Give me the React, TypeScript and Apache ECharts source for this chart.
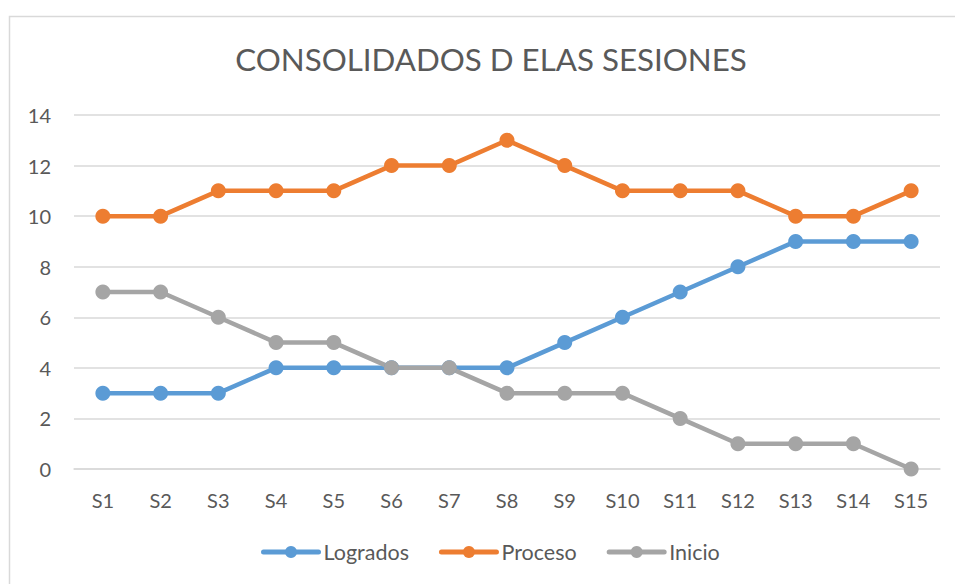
import React, { useEffect, useRef } from "react";
import * as echarts from "echarts";

const categories = ["S1","S2","S3","S4","S5","S6","S7","S8","S9","S10","S11","S12","S13","S14","S15"];
const logrados = [3,3,3,4,4,4,4,4,5,6,7,8,9,9,9];
const proceso = [10,10,11,11,11,12,12,13,12,11,11,11,10,10,11];
const inicio = [7,7,6,5,5,4,4,3,3,3,2,1,1,1,0];
const titleText = "CONSOLIDADOS D ELAS SESIONES";

const FONT = "Lato, 'Noto Sans', sans-serif";

export default function App() {
  const ref = useRef<HTMLDivElement>(null);
  useEffect(() => {
    const chart = echarts.init(ref.current!, null, { renderer: "svg" });
    const mk = (name: string, data: number[], color: string) => ({
      name,
      type: "line",
      data,
      symbol: "circle",
      symbolSize: 15,
      lineStyle: { width: 4.5, color },
      itemStyle: { color },
      emphasis: { disabled: true },
    });
    chart.setOption({
      animation: false,
      textStyle: { fontFamily: FONT },
      graphic: [
        {
          type: "rect",
          shape: { x: 9.5, y: 16.5, width: 1000, height: 1000 },
          style: { fill: "none", stroke: "#d9d9d9", lineWidth: 1.5 },
          silent: true,
        },
      ],
      title: {
        text: titleText,
        left: 486,
        textAlign: "center",
        top: 38,
        textStyle: { fontFamily: FONT, fontSize: 31.3, fontWeight: "normal", color: "#595959" },
      },
      grid: { left: 74, right: 15, top: 115, bottom: 115, containLabel: false },
      legend: {
        top: 541,
        left: 261,
        padding: 0,
        itemWidth: 55,
        itemHeight: 15,
        itemGap: 30,
        lineStyle: { width: 5, cap: "round" },
        textStyle: { fontFamily: FONT, fontSize: 21.5, color: "#595959" },
        data: ["Logrados", "Proceso", "Inicio"],
      },
      xAxis: {
        type: "category",
        data: categories,
        boundaryGap: true,
        axisLine: { lineStyle: { color: "#d9d9d9", width: 1.5 } },
        axisTick: { show: false },
        axisLabel: { color: "#595959", fontSize: 20, fontFamily: FONT, margin: 21 },
      },
      yAxis: {
        type: "value",
        min: 0,
        max: 14,
        interval: 2,
        axisLine: { show: false },
        axisTick: { show: false },
        axisLabel: { color: "#595959", fontSize: 20, fontFamily: FONT, margin: 23 },
        splitLine: { lineStyle: { color: "#d9d9d9", width: 1.5 } },
      },
      series: [
        mk("Logrados", logrados, "#5B9BD5"),
        mk("Proceso", proceso, "#ED7D31"),
        mk("Inicio", inicio, "#A5A5A5"),
      ],
    });
    return () => chart.dispose();
  }, []);
  return <div ref={ref} style={{ width: 955, height: 584, position: "absolute", left: 0, top: 0 }} />;
}
